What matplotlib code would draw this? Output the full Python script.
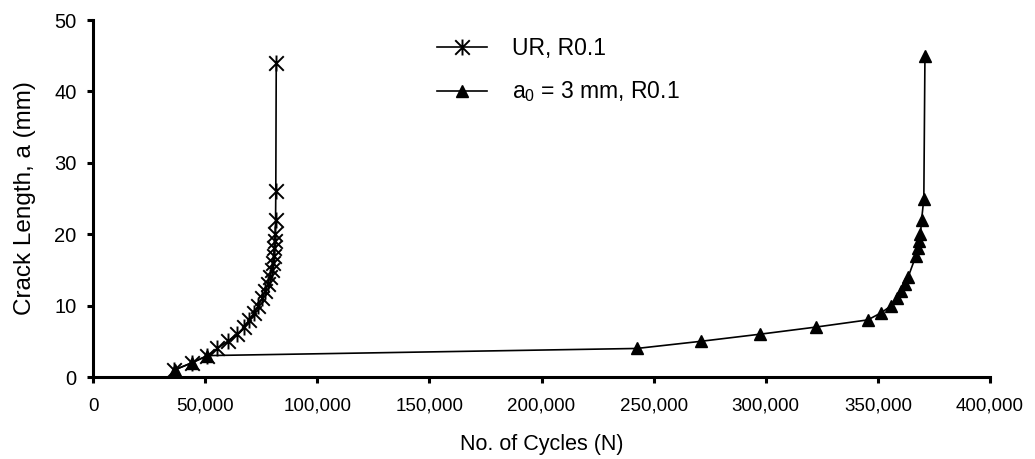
import matplotlib
matplotlib.use("Agg")
import matplotlib.pyplot as plt
from matplotlib.path import Path
from matplotlib.ticker import FuncFormatter

plt.rcParams['font.family'] = ['Liberation Sans', 'DejaVu Sans']
plt.rcParams['mathtext.default'] = 'regular'

# UR, R0.1 (cycles, crack length in mm)
ur_n = [36200, 44300, 51000, 55500, 60000, 64400, 67400, 69700, 71900, 73700,
        75400, 76800, 77900, 78800, 79600, 80100, 80600, 80800, 81000, 81200,
        81400, 81500, 81700]
ur_a = [1, 2, 3, 4, 5, 6, 7, 8, 9, 10,
        11, 12, 13, 14, 15, 16, 17, 18, 19, 20,
        22, 26, 44]

# a0 = 3 mm, R0.1
a0_n = [36500, 44000, 51000, 242500, 271000, 297500, 322500, 345500, 351500,
        356000, 358500, 360500, 362000, 363500, 367000, 368000, 368500,
        369000, 369500, 370500, 371000]
a0_a = [1, 2, 3, 4, 5, 6, 7, 8, 9,
        10, 11, 12, 13, 14, 17, 18, 19,
        20, 22, 25, 45]

xticks = [0, 50000, 100000, 150000, 200000, 250000, 300000, 350000, 400000]
yticks = [0, 10, 20, 30, 40, 50]

# excel style star: an x with a vertical bar
star = Path([(-1, -1), (1, 1), (-1, 1), (1, -1), (0, -1.1), (0, 1.1)],
            [Path.MOVETO, Path.LINETO, Path.MOVETO, Path.LINETO,
             Path.MOVETO, Path.LINETO])

fig = plt.figure(figsize=(10.35, 4.59), dpi=100)
ax = fig.add_axes([0.0899, 0.1786, 0.8666, 0.7778])

ax.plot(ur_n, ur_a, color='black', lw=1.2, marker=star, ms=11.5, mew=1.4,
        label='UR, R0.1')
ax.plot(a0_n, a0_a, color='black', lw=1.2, marker='^', ms=9,
        label='a$_0$ = 3 mm, R0.1')

ax.set_xlim(0, 400000)
ax.set_ylim(0, 50)
ax.set_xticks(xticks)
ax.set_yticks(yticks)
ax.xaxis.set_major_formatter(FuncFormatter(lambda v, p: f'{int(v):,}'))

for s in ['top', 'right']:
    ax.spines[s].set_visible(False)
for s in ['left', 'bottom']:
    ax.spines[s].set_linewidth(2.2)
ax.tick_params(width=2.2, length=4, direction='out')
ax.tick_params(axis='x', labelsize=13.5, pad=11)
ax.tick_params(axis='y', labelsize=14.5, pad=8)

ax.set_xlabel('No. of Cycles (N)', fontsize=15.5, labelpad=14)
ax.set_ylabel('Crack Length, a (mm)', fontsize=17.5, labelpad=13)

ax.legend(frameon=False, fontsize=16.5, loc='upper left',
          bbox_to_anchor=(0.36, 1.01), handlelength=2.2, handletextpad=1.1,
          labelspacing=0.85)

fig.savefig('out.png', dpi=100)
